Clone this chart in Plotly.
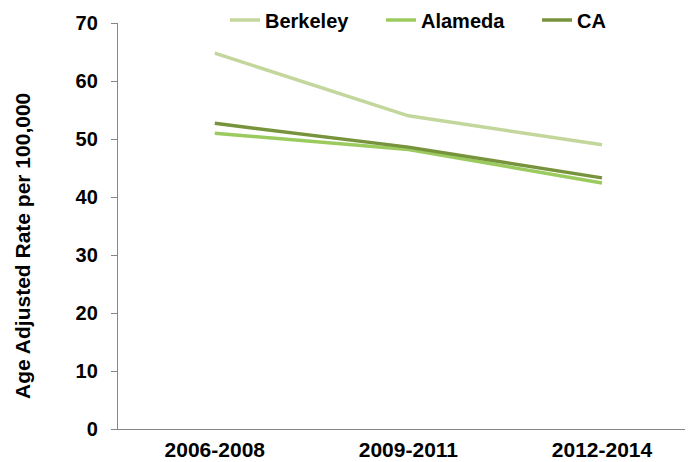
import plotly.graph_objects as go

periods = ["2006-2008", "2009-2011", "2012-2014"]
berkeley = [64.8, 54.0, 49.0]
alameda = [51.0, 48.2, 42.4]
ca = [52.7, 48.6, 43.3]
y_ticks = [0, 10, 20, 30, 40, 50, 60, 70]

FONT = "Liberation Sans, Arial, sans-serif"
W, H = 685, 454  # page body adds an 8px margin on the left and top

fig = go.Figure()
for name, vals, col in [("Berkeley", berkeley, "#C3D69B"),
                        ("Alameda", alameda, "#9BCB5F"),
                        ("CA", ca, "#77933C")]:
    fig.add_trace(go.Scatter(x=periods, y=vals, name=name, mode="lines",
                             line=dict(color=col, width=3.5)))

fig.update_layout(
    width=W, height=H,
    margin=dict(l=110, r=0, t=15, b=33, autoexpand=False),
    paper_bgcolor="white", plot_bgcolor="white",
    font=dict(family=FONT, size=20, color="black"),
    showlegend=True,
    legend=dict(orientation="h", xref="container", yref="container",
                x=217/W, xanchor="left", y=1-12/H, yanchor="middle",
                font=dict(family=FONT, size=20, color="black", weight="bold"),
                entrywidth=111, bgcolor="rgba(0,0,0,0)"),
    xaxis=dict(type="category", range=[-0.5, 2.47], showgrid=False,
               showline=True, linecolor="#868686", linewidth=1.3,
               ticks="", tickfont=dict(family=FONT, size=21, weight="bold"),
               ticklabelstandoff=2, zeroline=False),
    yaxis=dict(range=[0, 70], tickvals=y_ticks, showgrid=False,
               showline=True, linecolor="#868686", linewidth=1.3,
               ticks="outside", ticklen=6, tickcolor="#868686",
               tickfont=dict(family=FONT, size=20, weight="bold"),
               ticklabelstandoff=9, zeroline=False),
    annotations=[dict(text="Age Adjusted Rate per 100,000", textangle=-90,
                      xref="paper", yref="paper", x=0, xshift=-(118-23),
                      y=0.451, xanchor="center", yanchor="middle",
                      showarrow=False,
                      font=dict(family=FONT, size=21, color="black", weight="bold"))],
)

fig.write_html("out.html")
